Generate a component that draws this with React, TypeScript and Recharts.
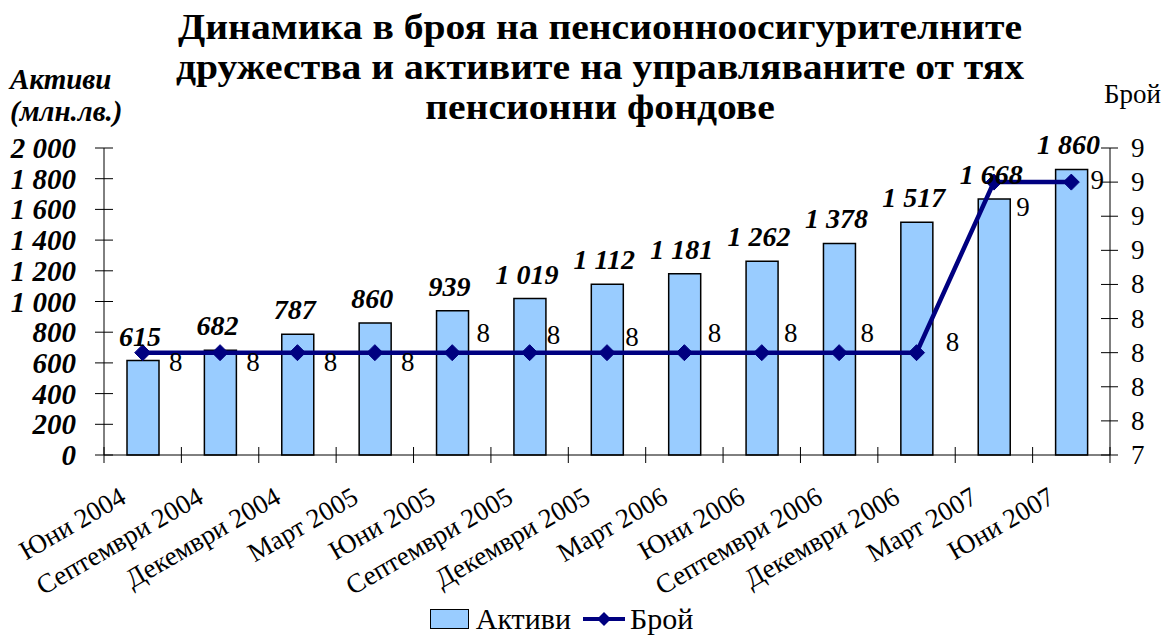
import React from "react";
import {
  ComposedChart,
  Bar,
  Line,
  XAxis,
  YAxis,
  Legend,
  LabelList,
} from "recharts";

const categories = [
  "Юни 2004",
  "Септември 2004",
  "Декември 2004",
  "Март 2005",
  "Юни 2005",
  "Септември 2005",
  "Декември 2005",
  "Март 2006",
  "Юни 2006",
  "Септември 2006",
  "Декември 2006",
  "Март 2007",
  "Юни 2007",
];
const assets = [615, 682, 787, 860, 939, 1019, 1112, 1181, 1262, 1378, 1517, 1668, 1860];
const funds = [8, 8, 8, 8, 8, 8, 8, 8, 8, 8, 8, 9, 9];

const leftTicks = [0, 200, 400, 600, 800, 1000, 1200, 1400, 1600, 1800, 2000];
const rightTicks = [7.4, 7.6, 7.8, 8, 8.2, 8.4, 8.6, 8.8, 9, 9.2];

const titleLines = [
  "Динамика в броя на пенсионноосигурителните",
  "дружества и активите на управляваните от тях",
  "пенсионни фондове",
];

// where Excel put the "Брой" labels, relative to each point
const fundLabelOffsets = [
  [33, 9], [33, 9], [33, 9], [33, 9],
  [31, -20], [24, -18], [25, -16], [30, -20], [29, -20], [28, -20],
  [36, -11], [29, 25], [26, -2],
];

const data = categories.map((name, i) => ({ name, assets: assets[i], funds: funds[i] }));

const W = 1171;
const H = 639;
const AXIS_L = 104;
const AXIS_R = 1110;
const TOP = 148;
const BOTTOM = 455;
const BAND = (AXIS_R - AXIS_L) / categories.length;

const FONT = "'Liberation Serif', 'Times New Roman', serif";
const NAVY = "#000080";
const BAR_FILL = "#99CCFF";

const fmtThousands = (v: number) => String(v).replace(/\B(?=(\d{3})+(?!\d))/g, " ");

const LeftTick = ({ y, payload }: any) => (
  <g>
    <line x1={AXIS_L - 9} x2={AXIS_L + 9} y1={y} y2={y} stroke="#000" />
    <text
      x={76}
      y={y}
      dy={10}
      textAnchor="end"
      fontFamily={FONT}
      fontWeight="bold"
      fontStyle="italic"
      fontSize={29}
      fill="#000"
    >
      {fmtThousands(payload.value)}
    </text>
  </g>
);

const RightTick = ({ y, payload }: any) => (
  <g>
    <line x1={AXIS_R - 9} x2={AXIS_R + 8} y1={y} y2={y} stroke="#000" />
    <text x={1131} y={y} dy={9} textAnchor="start" fontFamily={FONT} fontSize={27} fill="#000">
      {Math.round(payload.value)}
    </text>
  </g>
);

const CatTick = ({ x, payload, index }: any) => {
  const tx = x - 15;
  const ty = BOTTOM + 47;
  return (
    <g>
      {index === 0 && (
        <line x1={x - BAND / 2} x2={x - BAND / 2} y1={BOTTOM - 8} y2={BOTTOM + 8} stroke="#000" />
      )}
      <line x1={x + BAND / 2} x2={x + BAND / 2} y1={BOTTOM - 8} y2={BOTTOM + 8} stroke="#000" />
      <text
        x={tx}
        y={ty}
        textAnchor="end"
        transform={`rotate(-30 ${tx} ${ty})`}
        fontFamily={FONT}
        fontSize={27}
        fill="#000"
      >
        {payload.value}
      </text>
    </g>
  );
};

const Diamond = ({ cx, cy }: any) => {
  if (cx == null || cy == null) return null;
  const r = 8;
  return (
    <path
      d={`M${cx},${cy - r} L${cx + r},${cy} L${cx},${cy + r} L${cx - r},${cy} Z`}
      fill={NAVY}
      stroke={NAVY}
    />
  );
};

const BarValueLabel = ({ x, y, width, value }: any) => (
  <text
    x={x + width / 2 - 3}
    y={y - 15}
    textAnchor="middle"
    fontFamily={FONT}
    fontWeight="bold"
    fontStyle="italic"
    fontSize={28}
    fill="#000"
  >
    {fmtThousands(value)}
  </text>
);

const FundLabel = ({ x, y, index, value }: any) => {
  const [dx, dy] = fundLabelOffsets[index] || [30, 0];
  return (
    <text
      x={x + dx}
      y={y + dy}
      dy={9}
      textAnchor="middle"
      fontFamily={FONT}
      fontSize={27}
      fill="#000"
    >
      {value}
    </text>
  );
};

const LegendContent = () => (
  <div
    style={{
      display: "flex",
      justifyContent: "center",
      alignItems: "center",
      height: 40,
      paddingRight: 48,
      fontFamily: FONT,
      fontSize: 30,
      color: "#000",
    }}
  >
    <span
      style={{
        display: "inline-block",
        width: 37,
        height: 18,
        background: BAR_FILL,
        border: "1.5px solid #000",
        marginRight: 7,
      }}
    />
    <span style={{ marginRight: 12 }}>Активи</span>
    <svg width={42} height={20} style={{ marginRight: 5 }}>
      <line x1={0} x2={42} y1={10} y2={10} stroke={NAVY} strokeWidth={4} />
      <path d="M21,3 L28,10 L21,17 L14,10 Z" fill={NAVY} />
    </svg>
    <span>Брой</span>
  </div>
);

export default function App() {
  return (
    <div style={{ position: "relative", width: W, height: H, fontFamily: FONT, background: "#fff" }}>
      <style>{`body{margin:0;}`}</style>
      <div
        style={{
          position: "absolute",
          top: 7,
          left: 0,
          width: W,
          textAlign: "center",
          fontFamily: FONT,
          fontWeight: "bold",
          fontSize: 36,
          lineHeight: "40px",
          paddingLeft: 29,
          boxSizing: "border-box",
          transform: "scaleX(1.1)",
          transformOrigin: "600px 0",
        }}
      >
        {titleLines.map((t) => (
          <div key={t}>{t}</div>
        ))}
      </div>
      <div
        style={{
          position: "absolute",
          top: 63,
          left: 10,
          fontFamily: FONT,
          fontWeight: "bold",
          fontStyle: "italic",
          fontSize: 29,
          lineHeight: "32px",
        }}
      >
        <div>Активи</div>
        <div>(млн.лв.)</div>
      </div>
      <div
        style={{
          position: "absolute",
          top: 79,
          left: 1104,
          fontFamily: FONT,
          fontSize: 27,
        }}
      >
        Брой
      </div>
      <ComposedChart
        width={W}
        height={H}
        data={data}
        margin={{ top: TOP, right: 0, bottom: 0, left: 0 }}
        style={{ position: "absolute", top: 0, left: 0 }}
      >
        <XAxis
          dataKey="name"
          interval={0}
          height={H - BOTTOM - 40}
          tick={<CatTick />}
          tickLine={false}
          axisLine={{ stroke: "#000" }}
        />
        <YAxis
          yAxisId="left"
          orientation="left"
          width={AXIS_L}
          domain={[0, 2000]}
          ticks={leftTicks}
          tick={<LeftTick />}
          tickLine={false}
          axisLine={{ stroke: "#000" }}
          interval={0}
        />
        <YAxis
          yAxisId="right"
          orientation="right"
          width={W - AXIS_R}
          domain={[7.4, 9.2]}
          ticks={rightTicks}
          tick={<RightTick />}
          tickLine={false}
          axisLine={{ stroke: "#000" }}
          interval={0}
          allowDataOverflow
        />
        <Legend verticalAlign="bottom" height={40} content={<LegendContent />} />
        <Bar
          yAxisId="left"
          dataKey="assets"
          name="Активи"
          fill={BAR_FILL}
          stroke="#000"
          strokeWidth={1.5}
          barSize={32}
          isAnimationActive={false}
        >
          <LabelList dataKey="assets" content={<BarValueLabel />} />
        </Bar>
        <Line
          yAxisId="right"
          dataKey="funds"
          name="Брой"
          type="linear"
          stroke={NAVY}
          strokeWidth={4.5}
          dot={<Diamond />}
          activeDot={false}
          isAnimationActive={false}
        >
          <LabelList dataKey="funds" content={<FundLabel />} />
        </Line>
      </ComposedChart>
    </div>
  );
}
